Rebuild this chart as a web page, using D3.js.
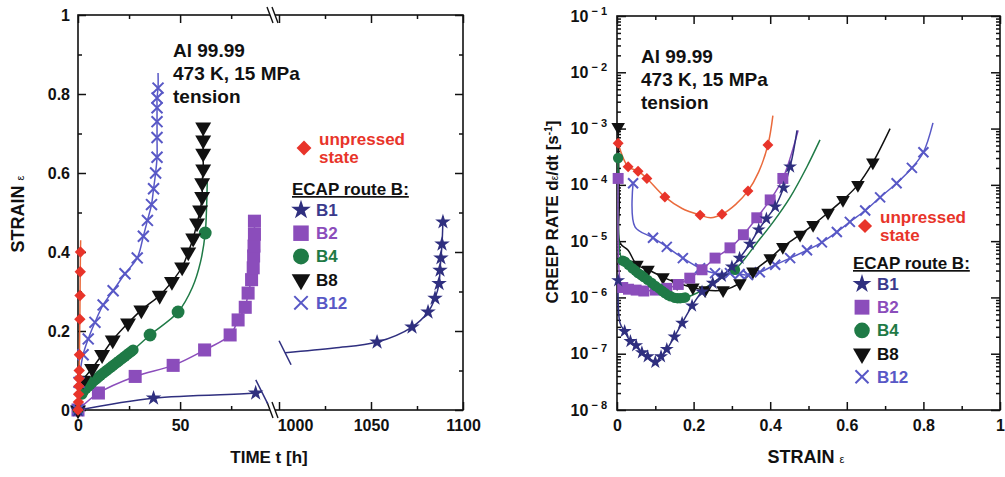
<!DOCTYPE html>
<html>
<head>
<meta charset="utf-8">
<script src="https://cdn.jsdelivr.net/npm/d3@7"></script>
<style>
  body { margin: 0; background: #fff; }
  svg { display: block; font-family: "Liberation Sans", Arial, sans-serif; font-weight: bold; }
  .tick text { font-size: 16px; fill: #111; }
  .tick line { stroke: #111; stroke-width: 1.5; }
</style>
</head>
<body>
<svg></svg>
<script>
// ---- left panel: strain vs time ----
const unpMarkT = [0, 0.2, 0.3, 0.4, 0.5, 0.6, 0.7, 0.9, 1.0, 1.1, 1.2]
const unpMarkS = [0, 0.02, 0.04, 0.06, 0.08, 0.1, 0.14, 0.23, 0.29, 0.35, 0.40]
const unpLineT = [0, 0.2, 0.3, 0.4, 0.5, 0.6, 0.7, 0.9, 1.0, 1.1, 1.2, 1.3]
const unpLineS = [0, 0.02, 0.04, 0.06, 0.08, 0.1, 0.14, 0.23, 0.29, 0.35, 0.40, 0.43]

const b12MarkT = [0, 0.5, 2.5, 5, 8.3, 12.3, 17.2, 23, 29, 32, 34, 36, 37, 38, 38.7, 38.7, 38.7, 38.7, 38.7, 39.2]
const b12MarkS = [0, 0.07, 0.14, 0.18, 0.222, 0.266, 0.302, 0.345, 0.385, 0.44, 0.48, 0.52, 0.56, 0.60, 0.64, 0.69, 0.73, 0.765, 0.79, 0.815]
const b12LineT = [...b12MarkT, 39.2]
const b12LineS = [...b12MarkS, 0.853]

const b8MarkT = [0, 2.5, 6.9, 11.8, 17, 24.5, 31, 40, 46, 51, 54, 56.4, 58.3, 59.8, 60.8, 60.8, 61.3, 61.3, 61.3, 61.3]
const b8MarkS = [0, 0.075, 0.105, 0.14, 0.177, 0.22, 0.253, 0.29, 0.325, 0.362, 0.40, 0.435, 0.473, 0.506, 0.54, 0.575, 0.61, 0.65, 0.683, 0.716]

const b4MarkT = [0, 2, 3, 4, 5, 6, 7, 8, 9, 10, 11, 12, 13, 14, 15, 16, 17, 18, 19, 20, 21, 22, 23, 24, 25, 26, 27, 35.3, 49, 62.3]
const b4MarkS = [0, 0.04, 0.05, 0.055, 0.06, 0.065, 0.07, 0.075, 0.079, 0.083, 0.088, 0.092, 0.096, 0.10, 0.104, 0.108, 0.112, 0.116, 0.12, 0.124, 0.128, 0.132, 0.136, 0.14, 0.144, 0.148, 0.152, 0.19, 0.248, 0.448]
const b4LineT = [0, 3, 8, 14, 20, 27, 35.3, 49, 56, 60, 62.3, 63, 63.3]
const b4LineS = [0, 0.05, 0.075, 0.10, 0.124, 0.152, 0.19, 0.248, 0.31, 0.375, 0.448, 0.52, 0.58]

const b2MarkT = [0, 10, 28, 46.6, 62, 74.5, 78.4, 81.9, 83.3, 85, 85.8, 86, 86.2, 86.4, 86.4]
const b2MarkS = [0, 0.043, 0.085, 0.113, 0.152, 0.19, 0.228, 0.26, 0.296, 0.33, 0.36, 0.39, 0.415, 0.445, 0.478]

const b1aMarkT = [0, 37, 87]
const b1aMarkS = [0, 0.03, 0.043]
const b1aLineT = [0, 37, 87, 90]
const b1aLineS = [0, 0.03, 0.043, 0.046]
const b1bMarkT = [1053.3, 1072.3, 1081, 1084.8, 1087, 1087.5, 1088, 1088.6, 1089.1]
const b1bMarkS = [0.172, 0.21, 0.248, 0.283, 0.32, 0.354, 0.385, 0.42, 0.476]
const b1bLineT = [1003.3, 1030, ...b1bMarkT, 1089.3]
const b1bLineS = [0.145, 0.157, ...b1bMarkS, 0.49]

const timeTicksA = [0, 50]
const timeTicksB = [1000, 1050, 1100]
const strainTicks = [0, 0.2, 0.4, 0.6, 0.8, 1]

// ---- right panel: creep rate vs strain ----
const unpRateE = [0.003, 0.029, 0.055, 0.078, 0.125, 0.217, 0.274, 0.342, 0.394]
const unpRateR = [5.5e-4, 2.1e-4, 1.75e-4, 1.3e-4, 6.1e-5, 2.9e-5, 3.0e-5, 7.8e-5, 5.1e-4]
const unpRateLineE = [0.003, 0.029, 0.055, 0.078, 0.125, 0.17, 0.217, 0.245, 0.274, 0.31, 0.342, 0.37, 0.394, 0.407]
const unpRateLineR = [5.5e-4, 2.1e-4, 1.75e-4, 1.3e-4, 6.1e-5, 3.8e-5, 2.9e-5, 2.6e-5, 3.0e-5, 4.5e-5, 7.8e-5, 1.7e-4, 5.1e-4, 1.7e-3]

const b1RateE = [0.003, 0.02, 0.035, 0.05, 0.065, 0.08, 0.1, 0.115, 0.13, 0.15, 0.17, 0.196, 0.222, 0.25, 0.274, 0.30, 0.32, 0.347, 0.37, 0.39, 0.413, 0.435, 0.452]
const b1RateR = [2.0e-6, 2.5e-7, 1.66e-7, 1.4e-7, 1.05e-7, 8.9e-8, 7.1e-8, 8.9e-8, 1.2e-7, 2.0e-7, 3.5e-7, 7.1e-7, 1.26e-6, 1.8e-6, 2.4e-6, 3.5e-6, 5.0e-6, 8.9e-6, 1.6e-5, 2.5e-5, 4.1e-5, 8.9e-5, 2.1e-4]
const b1RateLineE = [0.003, 0.008, ...b1RateE.slice(1), 0.47]
const b1RateLineR = [2.0e-6, 3.5e-7, ...b1RateR.slice(1), 9.3e-4]

const b2RateE = [0.003, 0.015, 0.03, 0.05, 0.07, 0.1, 0.13, 0.16, 0.19, 0.222, 0.256, 0.295, 0.33, 0.365, 0.40, 0.433]
const b2RateR = [1.3e-4, 1.5e-6, 1.4e-6, 1.35e-6, 1.3e-6, 1.35e-6, 1.45e-6, 1.7e-6, 2.2e-6, 3.1e-6, 5.0e-6, 7.6e-6, 1.3e-5, 2.6e-5, 5.4e-5, 1.3e-4]
const b2RateLineE = [0.003, 0.008, ...b2RateE.slice(1), 0.473]
const b2RateLineR = [1.3e-4, 2.0e-6, ...b2RateR.slice(1), 9.3e-4]

const b4RateE = [0.003, 0.015, 0.021, 0.03, 0.04, 0.048, 0.055, 0.063, 0.07, 0.08, 0.091, 0.1, 0.11, 0.118, 0.125, 0.133, 0.14, 0.151, 0.158, 0.165, 0.172, 0.178, 0.308]
const b4RateR = [3.0e-4, 4.5e-6, 4.3e-6, 3.8e-6, 3.3e-6, 3.0e-6, 2.7e-6, 2.5e-6, 2.3e-6, 2.05e-6, 1.8e-6, 1.6e-6, 1.45e-6, 1.3e-6, 1.2e-6, 1.1e-6, 1.05e-6, 0.98e-6, 0.97e-6, 0.97e-6, 0.98e-6, 1.0e-6, 3.1e-6]
const b4RateLineE = [0.003, 0.008, 0.015, 0.03, 0.055, 0.091, 0.125, 0.151, 0.178, 0.209, 0.26, 0.308, 0.365, 0.408, 0.452, 0.496, 0.53]
const b4RateLineR = [3.0e-4, 6.0e-6, 4.5e-6, 3.8e-6, 2.7e-6, 1.8e-6, 1.2e-6, 0.98e-6, 1.0e-6, 1.2e-6, 2.0e-6, 3.1e-6, 9.3e-6, 2.2e-5, 6.0e-5, 2.1e-4, 6.3e-4]

const b8RateE = [0.003, 0.052, 0.081, 0.12, 0.157, 0.198, 0.23, 0.277, 0.321, 0.355, 0.40, 0.433, 0.478, 0.512, 0.551, 0.59, 0.629, 0.668]
const b8RateR = [1.07e-3, 3.8e-6, 3.1e-6, 2.3e-6, 1.8e-6, 1.5e-6, 1.35e-6, 1.35e-6, 1.8e-6, 2.9e-6, 5.0e-6, 7.9e-6, 1.3e-5, 1.95e-5, 3.2e-5, 5.4e-5, 1.0e-4, 2.5e-4]
const b8RateLineE = [0.003, 0.006, 0.008, 0.029, ...b8RateE.slice(1), 0.713]
const b8RateLineR = [1.07e-3, 5.0e-5, 9.3e-6, 6.9e-6, ...b8RateR.slice(1), 1.0e-3]

const b12RateE = [0.042, 0.094, 0.13, 0.172, 0.217, 0.256, 0.295, 0.32, 0.342, 0.373, 0.413, 0.452, 0.496, 0.535, 0.574, 0.608, 0.648, 0.687, 0.73, 0.77, 0.80]
const b12RateR = [1.07e-4, 1.15e-5, 7.9e-6, 5.0e-6, 3.3e-6, 2.7e-6, 2.7e-6, 2.6e-6, 2.5e-6, 2.8e-6, 3.8e-6, 5.0e-6, 6.9e-6, 9.5e-6, 1.45e-5, 2.2e-5, 3.5e-5, 6.0e-5, 1.07e-4, 2.0e-4, 3.8e-4]
const b12RateLineE = [0.042, 0.047, ...b12RateE.slice(1), 0.825]
const b12RateLineR = [1.07e-4, 1.8e-5, ...b12RateR.slice(1), 1.26e-3]

const rateDecades = [-8, -7, -6, -5, -4, -3, -2, -1]
const strainTicksR = [0, 0.2, 0.4, 0.6, 0.8, 1]

const legendNames = ['B1', 'B2', 'B4', 'B8', 'B12']

// colours
const cRed = '#e8342a'
const cRedLine = '#ea6a3c'
const cB1 = '#2f2f7f'
const cB2 = '#8b4dbb'
const cB4 = '#1f7a46'
const cB8 = '#111111'
const cB12 = '#5858c6'

const W = 1005
const H = 477

const svg = d3.select('svg').attr('width', W).attr('height', H)

// custom symbols
const symX = {
  draw (ctx, size) {
    const r = Math.sqrt(size) / 2
    ctx.moveTo(-r, -r); ctx.lineTo(r, r)
    ctx.moveTo(r, -r); ctx.lineTo(-r, r)
  }
}
const symbols = {
  diamond: { type: d3.symbolSquare, rot: 45 },
  star: { type: d3.symbolStar, rot: 0 },
  square: { type: d3.symbolSquare, rot: 0 },
  circle: { type: d3.symbolCircle, rot: 0 },
  tri: { type: d3.symbolTriangle, rot: 180 },
  x: { type: symX, rot: 0, stroke: true }
}

const drawMarks = (g, pts, sym, size, color) => {
  const s = symbols[sym]
  g.selectAll(null)
    .data(pts)
    .enter()
    .append('path')
    .attr('d', d3.symbol().type(s.type).size(size))
    .attr('transform', d => `translate(${d[0]},${d[1]}) rotate(${s.rot})`)
    .attr('fill', s.stroke ? 'none' : color)
    .attr('stroke', s.stroke ? color : 'none')
    .attr('stroke-width', s.stroke ? 2 : 0)
}

const line = d3.line().curve(d3.curveCatmullRom.alpha(0.5))
const drawLine = (g, pts, color, w = 1.5) => {
  g.append('path')
    .attr('d', line(pts))
    .attr('fill', 'none')
    .attr('stroke', color)
    .attr('stroke-width', w)
}
const zip = (xs, ys, fx, fy) => xs.map((v, i) => [fx(v), fy(ys[i])])

const noDomain = g => g.select('.domain').remove()

// ================= LEFT PANEL =================
const xL = d3.scaleLinear().domain([0, 95]).range([78, 272])
const xR = d3.scaleLinear().domain([1000, 1100]).range([279, 463])
const yL = d3.scaleLinear().domain([0, 1]).range([410, 15])

const left = svg.append('g')

// ticks
left.append('g').attr('transform', `translate(${xL(0)},0)`)
  .call(d3.axisLeft(yL).tickValues(strainTicks).tickSize(-8).tickPadding(8)
    .tickFormat(d => String(+d.toFixed(1))))
  .call(noDomain)
left.append('g').attr('transform', `translate(${xL(0)},0)`)
  .call(d3.axisLeft(yL).tickValues([0.1, 0.3, 0.5, 0.7, 0.9]).tickSize(-4).tickFormat(''))
  .call(noDomain)
left.append('g').attr('transform', `translate(${xR(1100)},0)`)
  .call(d3.axisRight(yL).tickValues(strainTicks).tickSize(-8).tickFormat(''))
  .call(noDomain)
left.append('g').attr('transform', `translate(${xR(1100)},0)`)
  .call(d3.axisRight(yL).tickValues([0.1, 0.3, 0.5, 0.7, 0.9]).tickSize(-4).tickFormat(''))
  .call(noDomain)

const bottomL = yL(0)
const topL = yL(1)
;[[xL, timeTicksA, [25, 75]], [xR, timeTicksB, [1025, 1075]]].forEach(([sc, major, minor]) => {
  left.append('g').attr('transform', `translate(0,${bottomL})`)
    .call(d3.axisBottom(sc).tickValues(major).tickSize(-8).tickPadding(10).tickFormat(d3.format('d')))
    .call(noDomain)
    .call(g => g.selectAll('.tick text').filter(d => d === 1000).attr('dx', 16))
  left.append('g').attr('transform', `translate(0,${bottomL})`)
    .call(d3.axisBottom(sc).tickValues(minor).tickSize(-4).tickFormat(''))
    .call(noDomain)
  left.append('g').attr('transform', `translate(0,${topL})`)
    .call(d3.axisTop(sc).tickValues(major).tickSize(-8).tickFormat(''))
    .call(noDomain)
  left.append('g').attr('transform', `translate(0,${topL})`)
    .call(d3.axisTop(sc).tickValues(minor).tickSize(-4).tickFormat(''))
    .call(noDomain)
})

// frame
left.append('rect')
  .attr('x', xL(0)).attr('y', topL)
  .attr('width', xR(1100) - xL(0)).attr('height', bottomL - topL)
  .attr('fill', 'none').attr('stroke', '#111').attr('stroke-width', 1.6)

// axis breaks
const brX = (xL.range()[1] + xR.range()[0]) / 2 - 3
;[topL, bottomL].forEach(y => {
  left.append('polygon')
    .attr('points', `${brX - 5},${y - 7} ${brX},${y - 7} ${brX + 5},${y + 7} ${brX},${y + 7}`)
    .attr('fill', '#fff')
  ;[-2.5, 2.5].forEach(o => {
    left.append('line')
      .attr('x1', brX + o - 3).attr('y1', y - 8)
      .attr('x2', brX + o + 3).attr('y2', y + 8)
      .attr('stroke', '#111').attr('stroke-width', 1.4)
  })
})

// data
const fL = t => xL(t)
drawLine(left, zip(unpLineT, unpLineS, fL, yL), cRedLine)
drawLine(left, zip(b1aLineT, b1aLineS, fL, yL), cB1)
drawLine(left, zip(b1bLineT, b1bLineS, xR, yL), cB1)
drawLine(left, zip(b2MarkT, b2MarkS, fL, yL), cB2)
drawLine(left, zip(b4LineT, b4LineS, fL, yL), cB4)
drawLine(left, zip(b8MarkT, b8MarkS, fL, yL), cB8)
drawLine(left, zip(b12LineT, b12LineS, fL, yL), cB12)

// curve break ticks on B1
;[[xL(b1aLineT[b1aLineT.length - 1]), yL(b1aLineS[b1aLineS.length - 1])],
  [xR(b1bLineT[0]), yL(b1bLineS[0])]].forEach(([x, y]) => {
  left.append('line')
    .attr('x1', x - 6).attr('y1', y - 12)
    .attr('x2', x + 6).attr('y2', y + 12)
    .attr('stroke', cB1).attr('stroke-width', 1.5)
})

drawMarks(left, zip(b2MarkT, b2MarkS, fL, yL), 'square', 170, cB2)
drawMarks(left, zip(b4MarkT.slice(0, -3), b4MarkS.slice(0, -3), fL, yL), 'circle', 95, cB4)
drawMarks(left, zip(b4MarkT.slice(-3), b4MarkS.slice(-3), fL, yL), 'circle', 130, cB4)
drawMarks(left, zip(b8MarkT, b8MarkS, fL, yL), 'tri', 110, cB8)
drawMarks(left, zip(b12MarkT, b12MarkS, fL, yL), 'x', 120, cB12)
drawMarks(left, zip(b1aMarkT, b1aMarkS, fL, yL), 'star', 75, cB1)
drawMarks(left, zip(b1bMarkT, b1bMarkS, xR, yL), 'star', 75, cB1)
drawMarks(left, zip(unpMarkT, unpMarkS, fL, yL), 'diamond', 65, cRed)

// axis titles
left.append('text')
  .attr('transform', `translate(24, 214) rotate(-90)`)
  .attr('text-anchor', 'middle')
  .attr('font-size', 18)
  .attr('fill', '#111')
  .text('STRAIN ')
  .append('tspan').attr('font-size', 11).attr('font-weight', 'normal').text('ε')

left.append('text')
  .attr('x', 269).attr('y', 463)
  .attr('text-anchor', 'middle')
  .attr('font-size', 17)
  .attr('fill', '#111')
  .text('TIME t [h]')

// annotation & legend helpers
const note = (g, x, y) => {
  ;['Al 99.99', '473 K, 15 MPa', 'tension'].forEach((t, i) => {
    g.append('text').attr('x', x).attr('y', y + i * 23)
      .attr('font-size', 19).attr('fill', '#111').text(t)
  })
}
const legend = (g, x, y, step, sizes) => {
  // unpressed
  drawMarks(g, [[x + 12, y]], 'diamond', sizes.diamond, cRed)
  g.append('text').attr('x', x + 27).attr('y', y - 3).attr('font-size', 17).attr('fill', cRed).text('unpressed')
  g.append('text').attr('x', x + 27).attr('y', y + 15).attr('font-size', 17).attr('fill', cRed).text('state')
  const ey = y + sizes.ecap
  g.append('text').attr('x', x).attr('y', ey).attr('font-size', 17).attr('fill', '#111')
    .attr('text-decoration', 'underline').text('ECAP route B:')
  const syms = ['star', 'square', 'circle', 'tri', 'x']
  const cols = [cB1, cB2, cB4, cB8, cB12]
  const sz = [sizes.star, sizes.square, sizes.circle, sizes.tri, sizes.x]
  legendNames.forEach((n, i) => {
    const yy = ey + 15 + i * step
    drawMarks(g, [[x + 9, yy]], syms[i], sz[i], cols[i])
    g.append('text').attr('x', x + 24).attr('y', yy + 6).attr('font-size', 17)
      .attr('fill', cols[i] === cB1 ? '#3a3a8c' : cols[i]).text(n)
  })
}

note(left, 173, 57)
legend(left, 292, 148, 23.2, { diamond: 110, ecap: 47, star: 120, square: 240, circle: 200, tri: 150, x: 180 })

// ================= RIGHT PANEL =================
const xS = d3.scaleLinear().domain([0, 1]).range([617, 1000])
const yS = d3.scaleLog().domain([1e-8, 1e-1]).range([410, 16])
const right = svg.append('g')

const majorRates = rateDecades.map(d => Math.pow(10, d))
const minorRates = []
rateDecades.slice(0, -1).forEach(d => {
  for (let k = 2; k <= 9; k++) minorRates.push(k * Math.pow(10, d))
})

right.append('g').attr('transform', `translate(${xS(0)},0)`)
  .call(d3.axisLeft(yS).tickValues(majorRates).tickSize(-9).tickPadding(10).tickFormat(''))
  .call(noDomain)
  .call(g => g.selectAll('.tick text').each(function (d) {
    const t = d3.select(this)
    t.text('10')
    t.append('tspan').attr('dy', -7).attr('font-size', 11).text(' \u2212 ' + (-Math.round(Math.log10(d))))
  }))
right.append('g').attr('transform', `translate(${xS(0)},0)`)
  .call(d3.axisLeft(yS).tickValues(minorRates).tickSize(-4).tickFormat(''))
  .call(noDomain)
right.append('g').attr('transform', `translate(${xS(1)},0)`)
  .call(d3.axisRight(yS).tickValues(majorRates).tickSize(-9).tickFormat(''))
  .call(noDomain)
right.append('g').attr('transform', `translate(${xS(1)},0)`)
  .call(d3.axisRight(yS).tickValues(minorRates).tickSize(-4).tickFormat(''))
  .call(noDomain)

right.append('g').attr('transform', `translate(0,${yS(1e-8)})`)
  .call(d3.axisBottom(xS).tickValues(strainTicksR).tickSize(-8).tickPadding(10)
    .tickFormat(d => String(+d.toFixed(1))))
  .call(noDomain)
right.append('g').attr('transform', `translate(0,${yS(1e-8)})`)
  .call(d3.axisBottom(xS).tickValues([0.1, 0.3, 0.5, 0.7, 0.9]).tickSize(-4).tickFormat(''))
  .call(noDomain)
right.append('g').attr('transform', `translate(0,${yS(1e-1)})`)
  .call(d3.axisTop(xS).tickValues(strainTicksR).tickSize(-8).tickFormat(''))
  .call(noDomain)
right.append('g').attr('transform', `translate(0,${yS(1e-1)})`)
  .call(d3.axisTop(xS).tickValues([0.1, 0.3, 0.5, 0.7, 0.9]).tickSize(-4).tickFormat(''))
  .call(noDomain)

right.append('rect')
  .attr('x', xS(0)).attr('y', yS(1e-1))
  .attr('width', xS(1) - xS(0)).attr('height', yS(1e-8) - yS(1e-1))
  .attr('fill', 'none').attr('stroke', '#111').attr('stroke-width', 1.6)

drawLine(right, zip(unpRateLineE, unpRateLineR, xS, yS), cRedLine)
drawLine(right, zip(b12RateLineE, b12RateLineR, xS, yS), cB12)
drawLine(right, zip(b8RateLineE, b8RateLineR, xS, yS), cB8)
drawLine(right, zip(b4RateLineE, b4RateLineR, xS, yS), cB4)
drawLine(right, zip(b2RateLineE, b2RateLineR, xS, yS), cB2)
drawLine(right, zip(b1RateLineE, b1RateLineR, xS, yS), cB1)

drawMarks(right, zip(b12RateE, b12RateR, xS, yS), 'x', 100, cB12)
drawMarks(right, zip(b8RateE, b8RateR, xS, yS), 'tri', 80, cB8)
drawMarks(right, zip(b2RateE, b2RateR, xS, yS), 'square', 120, cB2)
drawMarks(right, zip(b4RateE, b4RateR, xS, yS), 'circle', 85, cB4)
drawMarks(right, zip(b1RateE, b1RateR, xS, yS), 'star', 60, cB1)
drawMarks(right, zip(unpRateE, unpRateR, xS, yS), 'diamond', 60, cRed)

right.append('text')
  .attr('transform', `translate(558, 212) rotate(-90)`)
  .attr('text-anchor', 'middle')
  .attr('font-size', 17)
  .attr('fill', '#111')
  .call(t => {
    t.append('tspan').text('CREEP RATE d')
    t.append('tspan').attr('font-size', 10).attr('font-weight', 'normal').text('ε')
    t.append('tspan').text('/dt [s')
    t.append('tspan').attr('font-size', 10).attr('dy', -6).text('-1')
    t.append('tspan').attr('dy', 6).text(']')
  })

right.append('text')
  .attr('x', 806).attr('y', 463)
  .attr('text-anchor', 'middle')
  .attr('font-size', 18)
  .attr('fill', '#111')
  .text('STRAIN ')
  .append('tspan').attr('font-size', 11).attr('font-weight', 'normal').text('ε')

note(right, 641, 63)
legend(right, 853, 226, 23.2, { diamond: 100, ecap: 43, star: 110, square: 220, circle: 190, tri: 140, x: 170 })
</script>
</body>
</html>
